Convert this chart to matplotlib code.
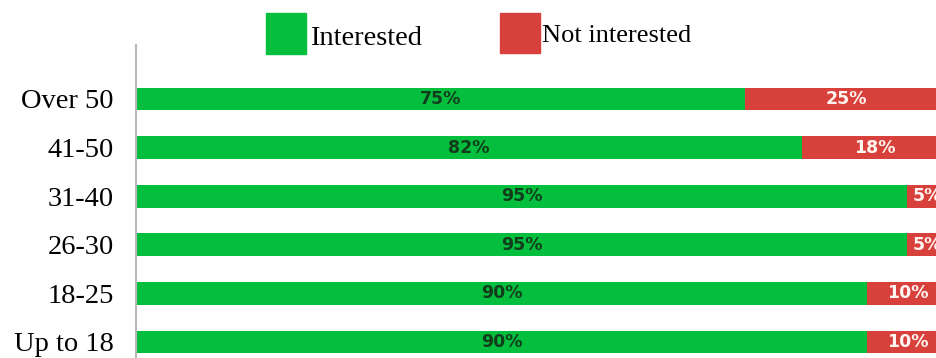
import matplotlib.pyplot as plt
from matplotlib.patches import Rectangle

# Age groups, bottom to top
grupos = ['Up to 18', '18-25', '26-30', '31-40', '41-50', 'Over 50']
interesados = [90, 90, 95, 95, 82, 75]
no_interesados = [10, 10, 5, 5, 18, 25]

verde = '#04be3e'
rojo = '#d8413b'

W, H = 937, 358
fig = plt.figure(figsize=(W / 100, H / 100), dpi=100)

# the axes run a bit past the right border, so the red segments are cut off
ax = fig.add_axes([136 / W, 0, 812 / W, 313 / H])
y = range(len(grupos))
ax.barh(y, interesados, height=0.47, color=verde, zorder=2)
ax.barh(y, no_interesados, left=interesados, height=0.47, color=rojo, zorder=2)

for i, (a, b) in enumerate(zip(interesados, no_interesados)):
    ax.text(a / 2, i, f'{a}%', ha='center', va='center', fontsize=12.5,
            fontweight='bold', color='#123d1c', family='DejaVu Sans')
    ax.text(a + b / 2, i, f'{b}%', ha='center', va='center', fontsize=12.5,
            fontweight='bold', color='#fff4f0', family='DejaVu Sans')

ax.set_xlim(0, 100)
ax.set_ylim(-0.33, 6.11)
ax.set_yticks(list(y))
ax.set_yticklabels(grupos, family='Liberation Serif', fontsize=20.5)
ax.tick_params(axis='y', length=0, pad=16)
ax.set_xticks([])
for lado in ['top', 'right', 'bottom']:
    ax.spines[lado].set_visible(False)
ax.spines['left'].set_color('#b8b8b8')
ax.spines['left'].set_linewidth(1.5)

# legend drawn by hand in figure pixels
fig.add_artist(Rectangle((266 / W, 1 - 54 / H), 40 / W, 41 / H,
                         transform=fig.transFigure, color=verde))
fig.text(310 / W, 1 - 45 / H, 'Interested', family='Liberation Serif',
         fontsize=20.5, va='baseline')
fig.add_artist(Rectangle((500 / W, 1 - 53 / H), 40 / W, 40 / H,
                         transform=fig.transFigure, color=rojo))
fig.text(542 / W, 1 - 42 / H, 'Not interested', family='Liberation Serif',
         fontsize=19, va='baseline')

fig.savefig('out.png', dpi=100)
